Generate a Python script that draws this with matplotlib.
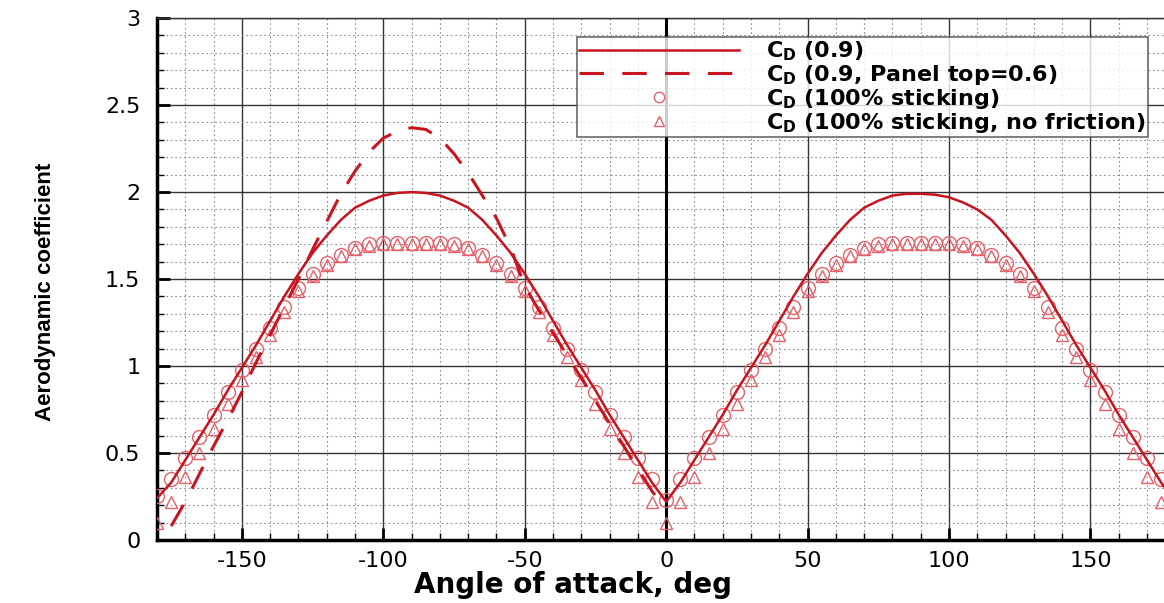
import numpy as np
import matplotlib.pyplot as plt
from matplotlib.ticker import MultipleLocator

# angle of attack grid used by all series (deg)
alpha = np.arange(-180, 181, 5)
alpha_panel = np.arange(-175, 1, 5)

cd_09 = [0.24, 0.33, 0.46, 0.59, 0.72, 0.86, 0.99, 1.12, 1.26, 1.40, 1.53, 1.65, 1.75, 1.84, 1.91, 1.95, 1.98, 1.995, 2.00,
         1.995, 1.98, 1.95, 1.91, 1.84, 1.75, 1.65, 1.53, 1.40, 1.26, 1.12, 0.99, 0.86, 0.72, 0.59, 0.46, 0.33, 0.22,
         0.33, 0.46, 0.59, 0.72, 0.86, 0.99, 1.12, 1.26, 1.40, 1.53, 1.65, 1.75, 1.84, 1.91, 1.95, 1.98, 1.99, 1.99,
         1.985, 1.97, 1.94, 1.90, 1.84, 1.75, 1.65, 1.53, 1.40, 1.26, 1.12, 0.99, 0.86, 0.72, 0.59, 0.46, 0.33, 0.22]

cd_panel = [0.08, 0.22, 0.38, 0.54, 0.69, 0.85, 1.02, 1.18, 1.34, 1.50, 1.67, 1.83, 1.99, 2.12, 2.23, 2.31, 2.35, 2.37,
            2.36, 2.31, 2.22, 2.11, 1.98, 1.85, 1.68, 1.46, 1.32, 1.19, 1.06, 0.93, 0.80, 0.67, 0.54, 0.41, 0.28, 0.18]

cd_stick = [0.25, 0.35, 0.47, 0.59, 0.72, 0.85, 0.98, 1.10, 1.22, 1.34, 1.45, 1.53, 1.59, 1.64, 1.68, 1.70, 1.71, 1.71, 1.71,
            1.71, 1.71, 1.70, 1.68, 1.64, 1.59, 1.53, 1.45, 1.34, 1.22, 1.10, 0.98, 0.85, 0.72, 0.59, 0.47, 0.35, 0.23,
            0.35, 0.47, 0.59, 0.72, 0.85, 0.98, 1.10, 1.22, 1.34, 1.45, 1.53, 1.59, 1.64, 1.68, 1.70, 1.71, 1.71, 1.71,
            1.71, 1.71, 1.70, 1.68, 1.64, 1.59, 1.53, 1.45, 1.34, 1.22, 1.10, 0.98, 0.85, 0.72, 0.59, 0.47, 0.35, 0.25]

cd_nofric = [0.10, 0.22, 0.36, 0.50, 0.64, 0.78, 0.92, 1.05, 1.18, 1.31, 1.43, 1.52, 1.58, 1.63, 1.67, 1.69, 1.70, 1.70, 1.70,
             1.70, 1.70, 1.69, 1.67, 1.63, 1.58, 1.52, 1.43, 1.31, 1.18, 1.05, 0.92, 0.78, 0.64, 0.50, 0.36, 0.22, 0.10,
             0.22, 0.36, 0.50, 0.64, 0.78, 0.92, 1.05, 1.18, 1.31, 1.43, 1.52, 1.58, 1.63, 1.67, 1.69, 1.70, 1.70, 1.70,
             1.70, 1.70, 1.69, 1.67, 1.63, 1.58, 1.52, 1.43, 1.31, 1.18, 1.05, 0.92, 0.78, 0.64, 0.50, 0.36, 0.22, 0.10]

plt.rcParams['font.family'] = ['DejaVu Sans']
plt.rcParams['axes.unicode_minus'] = False

red = '#c8141e'
marker_red = '#e4606a'

fig = plt.figure(figsize=(11.64, 6.03), dpi=100)
ax = fig.add_axes([0.1349, 0.1045, 0.8651, 0.8655])

ax.plot(alpha, cd_09, color=red, lw=1.8, label=r'C$_\mathregular{D}$ (0.9)', zorder=5)
ax.plot(alpha_panel, cd_panel, color=red, lw=2.2, dashes=(8, 6), label=r'C$_\mathregular{D}$ (0.9, Panel top=0.6)', zorder=5)
ax.plot(alpha, cd_stick, ls='none', marker='o', ms=10, mfc='none', mec=marker_red, mew=1.0,
        label=r'C$_\mathregular{D}$ (100% sticking)', zorder=4)
ax.plot(alpha, cd_nofric, ls='none', marker='^', ms=9, mfc='none', mec=marker_red, mew=1.0,
        label=r'C$_\mathregular{D}$ (100% sticking, no friction)', zorder=4)

ax.axvline(0, color='black', lw=2.2, zorder=3)

ax.set_xlim(-180, 176)
ax.set_ylim(0, 3)
ax.xaxis.set_major_locator(MultipleLocator(50))
ax.xaxis.set_minor_locator(MultipleLocator(10))
ax.yaxis.set_major_locator(MultipleLocator(0.5))
ax.yaxis.set_minor_locator(MultipleLocator(0.1))
ax.set_yticks([0, 0.5, 1, 1.5, 2, 2.5, 3])
ax.set_yticklabels(['0', '0.5', '1', '1.5', '2', '2.5', '3'])

ax.grid(which='major', color='#333333', lw=1.0, ls='-', zorder=1)
ax.grid(which='minor', color='#8c8c8c', lw=0.8, ls=(0, (1.5, 2.5)), zorder=1)

ax.tick_params(which='major', direction='in', length=9, width=2, labelsize=16, pad=8)
ax.tick_params(which='minor', direction='in', length=5, width=1)
ax.tick_params(axis='y', pad=12)

ax.spines['left'].set_linewidth(2.5)
ax.spines['bottom'].set_linewidth(2.5)
ax.spines['right'].set_visible(False)
ax.spines['top'].set_linewidth(1.0)
ax.spines['top'].set_color('#333333')

leg = ax.legend(loc='upper right', bbox_to_anchor=(0.984, 0.9636), frameon=True, fancybox=False,
                handlelength=7.2, labelspacing=0.0, borderpad=0.1, borderaxespad=0.0, handletextpad=1.2,
                markerscale=0.75, prop={'weight': 'bold', 'size': 16})
leg.get_frame().set_edgecolor('#444444')
leg.get_frame().set_linewidth(1.2)
leg.set_zorder(10)

fig.text(0.492, 0.006, 'Angle of attack, deg', ha='center', va='bottom', fontsize=20, fontweight='bold')
fig.text(0.039, 0.516, 'Aerodynamic coefficient', ha='center', va='center', rotation=90, fontsize=16,
         fontweight='bold', family=['Liberation Sans'])

fig.savefig('out.png', dpi=100)
